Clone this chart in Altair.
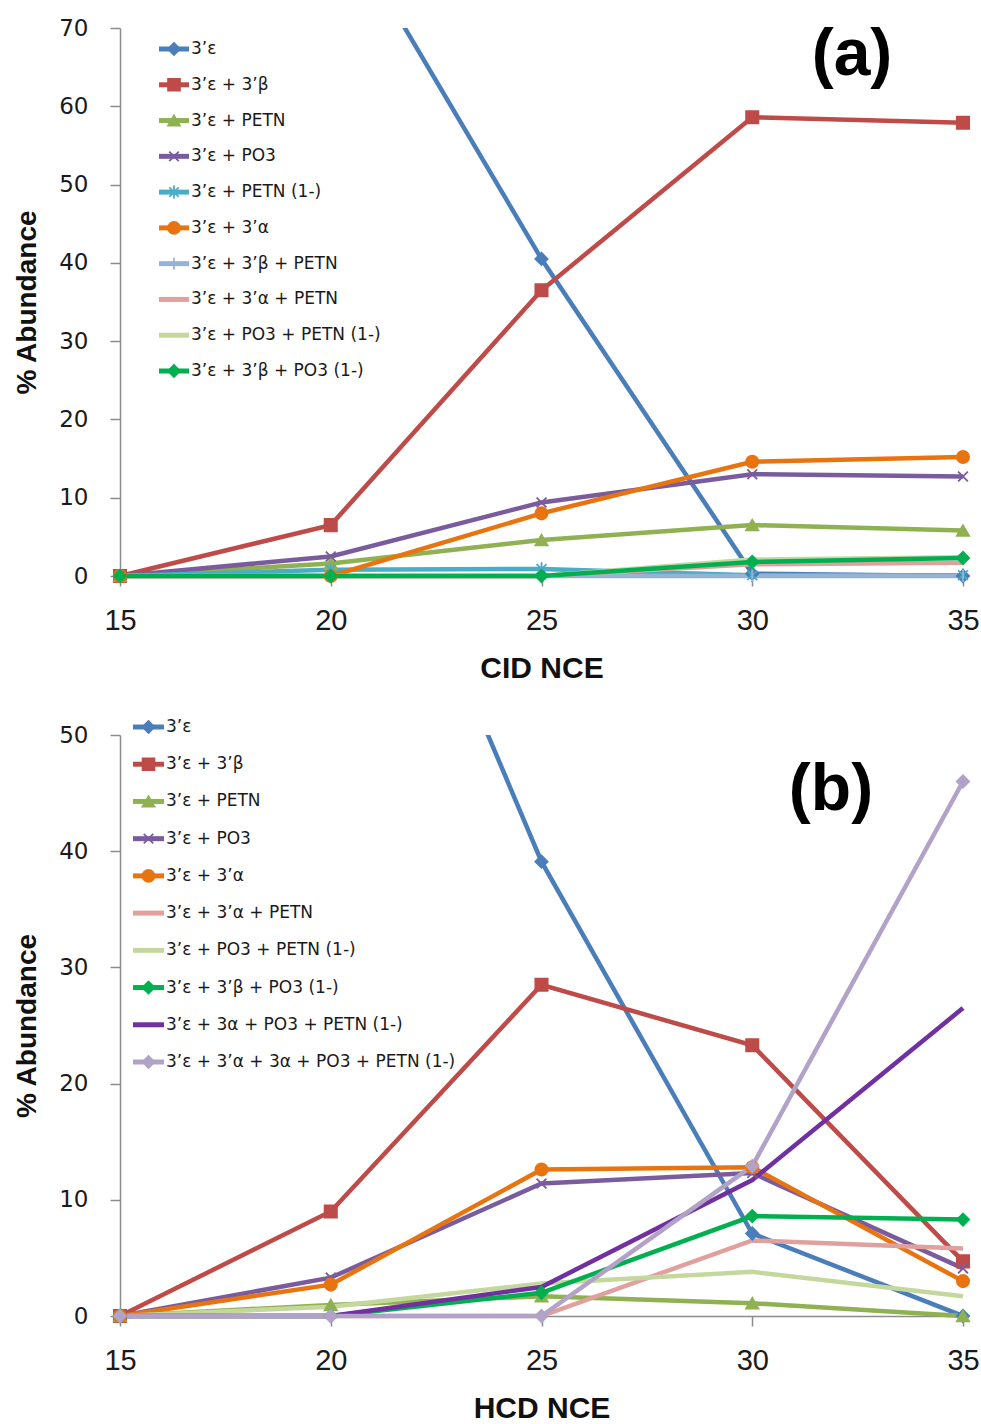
import altair as alt
import pandas as pd

X_VALUES = [15, 20, 25, 30, 35]

SERIES_A = ["3’ε", "3’ε + 3’β", "3’ε + PETN", "3’ε + PO3", "3’ε + PETN (1-)",
            "3’ε + 3’α", "3’ε + 3’β + PETN", "3’ε + 3’α + PETN",
            "3’ε + PO3 + PETN (1-)", "3’ε + 3’β + PO3 (1-)"]
COLORS_A = ["#4A7EBB", "#BE4B48", "#8FB151", "#7A5C9E", "#4BACC6",
            "#E8740F", "#95B3D7", "#E0A09E", "#C4D89E", "#00B050"]
MARKERS_A = ["diamond", "square", "triangle-up", "x", "asterisk",
             "circle", "plus", None, None, "diamond"]
VALUES_A = [
    [100, 86, 40.5, 0.3, 0.0],
    [0, 6.5, 36.5, 58.6, 57.9],
    [0, 1.6, 4.6, 6.5, 5.8],
    [0, 2.5, 9.4, 13.0, 12.7],
    [0, 0.8, 0.9, 0.1, 0.1],
    [0, 0.0, 8.0, 14.6, 15.2],
    [0, 0.0, 0.0, 0.0, 0.0],
    [0, 0.0, 0.0, 1.5, 1.7],
    [0, 0.0, 0.0, 2.1, 2.4],
    [0, 0.0, 0.0, 1.8, 2.3],
]

SERIES_B = ["3’ε", "3’ε + 3’β", "3’ε + PETN", "3’ε + PO3", "3’ε + 3’α",
            "3’ε + 3’α + PETN", "3’ε + PO3 + PETN (1-)", "3’ε + 3’β + PO3 (1-)",
            "3’ε + 3α + PO3 + PETN (1-)", "3’ε + 3’α + 3α + PO3 + PETN (1-)"]
COLORS_B = ["#4A7EBB", "#BE4B48", "#8FB151", "#7A5C9E", "#E8740F",
            "#E0A09E", "#C4D89E", "#00B050", "#7030A0", "#B3A2C7"]
MARKERS_B = ["diamond", "square", "triangle-up", "x", "circle",
             None, None, "diamond", None, "diamond"]
VALUES_B = [
    [100, 82, 39.1, 7.1, 0.0],
    [0, 9.0, 28.5, 23.3, 4.7],
    [0, 0.95, 1.7, 1.1, 0.0],
    [0, 3.3, 11.4, 12.3, 4.1],
    [0, 2.7, 12.6, 12.8, 3.0],
    [0, 0.0, 0.0, 6.5, 5.8],
    [0, 0.8, 2.8, 3.8, 1.7],
    [0, 0.0, 2.0, 8.6, 8.3],
    [0, 0.0, 2.5, 11.7, 26.5],
    [0, 0.0, 0.0, 12.9, 46.0],
]

SHAPE_PATHS = {
    "diamond": "diamond",
    "square": "square",
    "triangle-up": "triangle-up",
    "circle": "circle",
    "x": "M-0.8,-0.8L0.8,0.8M-0.8,0.8L0.8,-0.8",
    "asterisk": "M-0.8,-0.8L0.8,0.8M-0.8,0.8L0.8,-0.8M0,-1.1L0,1.1",
    "plus": "M0,-1L0,1",
}

TICK_FONT_Y = "DejaVu Sans"
TICK_FONT_X = "Liberation Sans"
TITLE_FONT = "Liberation Sans"
LEGEND_FONT = "DejaVu Sans"


def make_panel(series, colors, markers, values, ymax, xtitle, label,
               width, height, leg_rows, leg_x, label_pos):
    rows = []
    for i, (s, vals) in enumerate(zip(series, values)):
        for xv, v in zip(X_VALUES, vals):
            rows.append({"series": s, "idx": i, "x": xv, "value": v})
    df = pd.DataFrame(rows)

    color_scale = alt.Scale(domain=series, range=colors)
    marker_series = [s for s, m in zip(series, markers) if m]
    marker_paths = [SHAPE_PATHS[m] for m in markers if m]
    shape_scale = alt.Scale(domain=marker_series, range=marker_paths)

    x_enc = alt.X("x:Q", scale=alt.Scale(domain=[15, 35], nice=False, zero=False),
                  axis=alt.Axis(values=X_VALUES, title=xtitle, format="d"))
    y_enc = alt.Y("value:Q", scale=alt.Scale(domain=[0, ymax], nice=False),
                  axis=alt.Axis(values=list(range(0, ymax + 1, 10)), title="% Abundance"))
    color_enc = alt.Color("series:N", scale=color_scale, legend=None)
    stroke_enc = alt.Stroke("series:N", scale=color_scale, legend=None)
    shape_enc = alt.Shape("series:N", scale=shape_scale, legend=None)

    base = alt.Chart(df)
    first = series[0]
    line_first = base.transform_filter(alt.datum.series == first).mark_line(
        strokeWidth=4.5, clip=True).encode(x=x_enc, y=y_enc, color=color_enc, detail="series:N")
    line_rest = base.transform_filter(alt.datum.series != first).mark_line(
        strokeWidth=4.5).encode(x=x_enc, y=y_enc, color=color_enc, detail="series:N")
    pts = base.transform_filter(
        alt.FieldOneOfPredicate(field="series", oneOf=marker_series)
    ).transform_filter(f"datum.value <= {ymax}").mark_point(
        filled=True, size=150, strokeWidth=1.8, opacity=1
    ).encode(x=x_enc, y=y_enc, color=color_enc, stroke=stroke_enc, shape=shape_enc)

    data_layer = alt.layer(line_first, line_rest, pts)

    leg_df = pd.DataFrame({"series": series, "row": list(range(len(series)))})
    y_leg = alt.Y("row:Q", scale=alt.Scale(domain=[0, len(series) - 1], range=leg_rows),
                  axis=None)
    leg_base = alt.Chart(leg_df)
    leg_line = leg_base.mark_rule(strokeWidth=5).encode(
        x=alt.value(leg_x[0]), x2=alt.value(leg_x[1]), y=y_leg, color=color_enc)
    leg_pts = leg_base.transform_filter(
        alt.FieldOneOfPredicate(field="series", oneOf=marker_series)
    ).mark_point(filled=True, size=140, strokeWidth=1.8, opacity=1).encode(
        x=alt.value((leg_x[0] + leg_x[1]) / 2), y=y_leg,
        color=color_enc, stroke=stroke_enc, shape=shape_enc)
    leg_txt = leg_base.mark_text(align="left", baseline="middle", font=LEGEND_FONT,
                                 fontSize=17, color="#1a1a1a").encode(
        x=alt.value(leg_x[1] + 2), y=y_leg, text="series:N")
    lab_df = pd.DataFrame({"label": [label]})
    lab = alt.Chart(lab_df).mark_text(align="center", baseline="middle", font=TITLE_FONT,
                                      fontSize=66, fontWeight="bold", color="#000").encode(
        x=alt.value(label_pos[0]), y=alt.value(label_pos[1]), text="label:N")
    legend_layer = alt.layer(leg_line, leg_pts, leg_txt, lab)

    return alt.layer(data_layer, legend_layer).resolve_scale(y="independent").properties(
        width=width, height=height)


panel_a = make_panel(SERIES_A, COLORS_A, MARKERS_A, VALUES_A, 70, "CID NCE", "(a)",
                     843, 548, [21, 343], [39, 69], [732, 27])
panel_b = make_panel(SERIES_B, COLORS_B, MARKERS_B, VALUES_B, 50, "HCD NCE", "(b)",
                     843, 581, [-8, 327], [13, 44], [711, 55])

chart = alt.vconcat(panel_a, panel_b, spacing=159, bounds="flush").resolve_scale(
    color="independent", stroke="independent", shape="independent"
).properties(
    padding={"left": 13, "top": 17, "right": 0, "bottom": 0},
    background="white",
).configure_view(stroke=None).configure_axis(
    grid=False, domainColor="#8c8c8c", tickColor="#8c8c8c", domainWidth=1.5,
    tickWidth=1.5, tickSize=10, labelColor="#1a1a1a", titleColor="#111111",
    labelFlush=False,
).configure_axisX(
    labelFont=TICK_FONT_X, labelFontSize=29, labelPadding=20,
    titleFont=TITLE_FONT, titleFontSize=30, titleFontWeight="bold", titlePadding=18,
).configure_axisY(
    labelFont=TICK_FONT_Y, labelFontSize=23, labelPadding=22,
    titleFont=TITLE_FONT, titleFontSize=28, titleFontWeight="bold", titlePadding=17,
)

chart.save("out.html", embed_options={"renderer": "svg", "actions": False})
